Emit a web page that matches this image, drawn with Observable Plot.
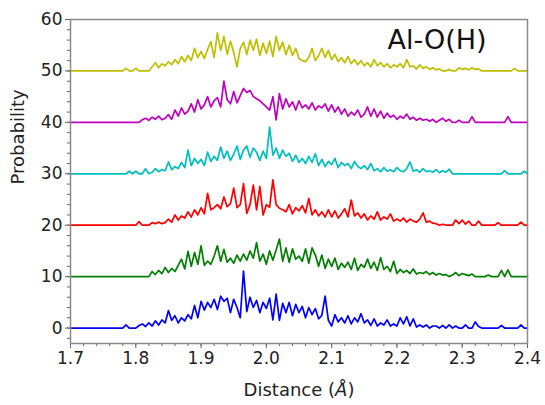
<!DOCTYPE html>
<html>
<head>
<meta charset="utf-8">
<script src="https://cdn.jsdelivr.net/npm/d3@7"></script>
<script src="https://cdn.jsdelivr.net/npm/@observablehq/plot@0.6"></script>
<style>
  html, body { margin: 0; padding: 0; background: #fff; }
  #chart { width: 545px; height: 405px; }
</style>
</head>
<body>
<div id="chart"></div>
<script>
// Histogram bins: first bin centre and bin width (Å)
const binStart = 1.70;
const binStep = 0.005;

// Series (raw probability, before vertical stacking offset)
const blue = [
  0,0,0,0,0,0,0,0,0,0,
  0,0,0,0,0,0,0,0.6,0,0,
  0,0.5,0.8,0.3,1.0,0.4,1.4,0.6,1.6,1.0,
  3.4,1.5,2.4,1.0,2.0,1.4,2.6,1.8,4.4,2.0,
  5.2,3.5,5.0,4.0,5.6,3.6,6.2,5.2,5.8,3.0,
  5.6,4.0,2.0,11.1,3.2,6.0,4.0,5.4,3.0,5.0,
  3.8,5.8,1.6,6.6,1.5,4.8,3.0,5.0,2.4,4.6,
  3.0,4.2,2.0,4.0,2.6,3.8,1.8,2.5,6.2,1.5,
  0.4,2.6,1.2,2.0,1.0,2.4,0.8,2.0,1.2,2.8,
  1.0,1.6,0.5,1.8,0.4,1.0,0.6,1.6,0.4,0.8,
  0.4,2.0,0.8,2.2,0.4,1.8,0.2,0.6,0.2,0.6,
  0,0.4,0.4,0,0.5,0,0.6,0,0.4,0,
  0,0.6,0,0,1.2,0.3,0,0,0,0,
  0,0,0.5,0,0,0,0,0,0.6,0,
  0
];
const green = [
  0,0,0,0,0,0,0,0,0,0,
  0,0,0,0,0,0,0,0,0,0,
  0,0,0,0,0,1.0,0.4,1.2,0.6,1.8,
  0.8,1.6,1.0,2.2,3.4,1.5,4.9,2.0,4.7,2.4,
  6.0,2.2,3.0,2.4,4.0,6.0,3.0,5.3,2.8,3.6,
  2.6,4.2,3.0,4.4,3.2,5.0,3.6,6.6,3.0,4.4,
  2.4,5.0,3.2,5.2,7.3,3.0,5.6,2.8,5.4,3.4,
  4.0,3.0,5.4,2.6,5.6,4.2,2.0,4.2,1.6,3.4,
  2.0,3.6,1.4,2.6,1.8,2.8,1.4,3.6,1.2,2.4,
  1.8,3.4,1.6,2.8,1.2,3.7,1.4,2.0,1.0,3.0,
  0.6,1.4,0.8,1.2,0.6,1.5,0.5,0.8,0.6,1.0,
  0.4,0.8,0.3,0.6,0.3,0.4,0,0.3,0.8,0.2,
  0.6,0.4,0.2,0.5,0,0,0,0,0.3,0,
  0,0,1.2,0,1.3,0,0,0,0,0,
  0
];
const red = [
  0,0,0,0,0,0,0,0,0,0,
  0,0,0,0,0,0,0,0,0,0,
  0,0.7,0,0,0,0.5,0.3,0.6,0.3,0.5,
  1.2,0.6,2.0,1.0,1.8,1.4,2.6,1.6,3.0,2.0,
  3.4,2.2,6.2,3.0,3.4,4.0,3.2,5.5,3.6,4.2,
  7.2,3.4,4.0,8.1,2.3,4.0,7.8,3.0,7.5,2.0,
  4.0,3.5,8.8,4.0,3.3,3.0,2.6,4.0,2.2,3.4,
  2.8,3.8,2.4,5.2,2.0,3.0,1.8,2.6,1.6,3.0,
  1.6,2.8,1.4,2.2,3.2,1.6,4.9,1.8,2.4,1.4,
  2.2,1.0,1.8,1.2,2.6,1.0,1.6,1.2,2.2,0.8,
  1.2,0.8,1.4,0.6,1.2,0.8,0.6,1.2,2.4,0.6,
  0.8,0.4,0.3,0,0.2,0,0,0,1.0,0.3,
  1.0,0.2,0.8,0,0,0.8,0,0,0,0,
  0,0.5,0,0,0,0,0,0,0.6,0,
  0
];
const cyan = [
  0,0,0,0,0,0,0,0,0,0,
  0,0,0,0,0,0,0,0,0.5,0,
  0.5,0,0,1.0,0,0.3,1.0,0.4,0.8,0.6,
  2.3,0.8,1.4,1.0,2.2,1.2,4.6,1.6,3.0,2.0,
  2.8,1.6,4.2,2.4,3.4,2.6,5.2,3.0,4.4,2.6,
  3.8,5.4,2.8,4.6,5.4,3.2,5.0,4.2,2.6,4.4,
  3.0,9.1,3.6,5.0,3.0,4.6,3.4,4.0,2.4,3.6,
  2.2,3.0,2.0,3.4,2.2,3.9,1.6,2.8,1.4,2.4,
  1.8,3.0,1.2,2.2,1.6,2.0,1.0,2.4,1.4,1.0,
  1.6,0.8,2.0,0.6,1.0,0.4,1.2,0.5,0.8,0.4,
  1.2,0.6,0.4,1.0,2.3,0.5,0.8,0.3,1.0,0.4,
  0.6,0.3,0.8,0.2,0.6,0.3,0.9,0,0,0,
  0,0,0,0,0,0,0,0,0,0,
  0,0,0,0.6,0,0,0,0,0,0.5,
  0
];
const magenta = [
  0,0,0,0,0,0,0,0,0,0,
  0,0,0,0,0,0,0,0,0,0,
  0,0,0.5,0.8,0.4,1.0,0.6,1.2,0.5,0.8,
  1.5,0.6,2.4,1.2,2.8,1.6,2.2,3.6,2.0,4.4,
  2.6,3.4,5.0,3.0,4.2,4.8,3.0,8.0,4.4,3.6,
  6.0,3.8,5.2,6.6,5.8,6.2,5.0,4.6,4.2,3.6,
  3.0,2.4,5.0,0.5,5.6,2.6,4.6,3.0,4.0,2.4,
  4.2,2.8,3.4,2.6,3.8,2.4,3.2,2.8,3.6,2.2,
  3.4,2.0,3.0,1.6,2.6,1.2,2.0,1.4,2.4,1.0,
  1.6,3.0,1.2,2.6,1.0,2.2,0.8,1.8,1.0,1.4,
  0.6,1.2,0.8,1.6,0.6,1.0,0.4,0.8,0.4,0.6,
  0.2,0.6,0,0.4,0.8,0.2,0.6,0,0,0.4,
  0,0,0,1.1,0,0,0,0,0,0,
  0,0,0,0,1.1,0,0,0,0,0,
  0
];
const olive = [
  0,0,0,0,0,0,0,0,0,0,
  0,0,0,0,0,0,0,0.5,0,0,
  0.5,0,0,0,0,0.8,1.6,0.6,1.4,1.0,
  1.8,1.2,2.2,1.4,2.8,1.8,3.0,2.0,4.4,2.6,
  3.8,2.4,4.2,5.7,2.6,7.4,4.0,6.7,3.2,5.8,
  3.6,0.8,4.4,5.6,3.2,6.0,4.0,6.2,3.0,5.4,
  3.4,5.8,2.8,6.7,4.0,5.6,3.2,5.0,3.0,4.4,
  2.4,2.0,1.8,2.6,4.4,2.0,3.0,4.4,2.6,4.0,
  2.2,3.2,1.8,2.6,1.6,2.8,1.4,2.2,1.2,2.0,
  1.0,1.6,0.8,2.2,1.0,1.6,0.8,1.4,0.6,1.2,
  0.8,1.4,0.6,2.2,0.8,1.0,0.4,1.2,0.5,0.8,
  0.3,0.6,0.2,0.4,0,0,0.3,0,0,0.6,
  0.3,0.5,0.2,0.6,0.3,0.4,0,0,0,0,
  0,0,0,0,0,0,0.5,0,0,0,
  0
];

const seriesValues = [blue, green, red, cyan, magenta, olive];
const seriesColors = ["#0000ff", "#008000", "#ff0000", "#00bfbf", "#bf00bf", "#bfbf00"];
const seriesOffsets = [0, 10, 20, 30, 40, 50];

const xTicks = [1.7, 1.8, 1.9, 2.0, 2.1, 2.2, 2.3, 2.4];
const yTicks = [0, 10, 20, 30, 40, 50, 60];
const xMinor = d3.range(1.70, 2.4001, 0.02);
const yMinor = d3.range(-2, 60.001, 2);

const xLabel = "Distance (Å)";
const yLabel = "Probability";
const panelLabel = "Al-O(H)";

const rowsFor = (vals, k) => vals.map((v, i) => ({x: binStart + i * binStep, y: v + seriesOffsets[k]}));

const font = "'DejaVu Sans', sans-serif";

const chart = Plot.plot({
  width: 545,
  height: 405,
  marginLeft: 70,
  marginRight: 18,
  marginTop: 19,
  marginBottom: 62,
  style: {fontFamily: font, fontSize: "17px", color: "#222", background: "#fff"},
  x: {domain: [1.7, 2.4]},
  y: {domain: [-3, 60]},
  marks: [
    ...seriesValues.map((vals, k) => Plot.line(rowsFor(vals, k), {x: "x", y: "y", stroke: seriesColors[k], strokeWidth: 1.7, strokeLinejoin: "round"})),
    Plot.axisX({ticks: xMinor, tickSize: 3, text: null, stroke: "#666", label: null}),
    Plot.axisX({ticks: xTicks, tickSize: 5, tickPadding: 3, tickFormat: d => d.toFixed(1), stroke: "#666", label: null, fontSize: 17}),
    Plot.axisY({ticks: yMinor, tickSize: 3, text: null, stroke: "#666", label: null}),
    Plot.axisY({ticks: yTicks, tickSize: 5, tickPadding: 3, stroke: "#666", label: null, fontSize: 17}),
    Plot.frame({stroke: "#8a8a8a", strokeWidth: 1.5}),
    Plot.text([xLabel], {frameAnchor: "bottom", dy: 47, lineAnchor: "middle", fontSize: 18, fill: "#222"}),
    Plot.text([yLabel], {frameAnchor: "left", dx: -52, dy: 3, rotate: -90, lineAnchor: "middle", fontSize: 18, fill: "#222"}),
    Plot.text([panelLabel], {frameAnchor: "top-left", dx: 317, dy: 21, textAnchor: "start", lineAnchor: "middle", fontSize: 27, fill: "#111"})
  ]
});

// italic Å in the x label
chart.querySelectorAll("text").forEach(t => {
  if (t.textContent === xLabel) {
    t.textContent = "";
    const ns = "http://www.w3.org/2000/svg";
    const a = document.createElementNS(ns, "tspan"); a.textContent = "Distance (";
    const b = document.createElementNS(ns, "tspan"); b.textContent = "Å"; b.setAttribute("font-style", "italic");
    const c = document.createElementNS(ns, "tspan"); c.textContent = ")";
    t.append(a, b, c);
  }
});

document.getElementById("chart").appendChild(chart);
</script>
</body>
</html>
